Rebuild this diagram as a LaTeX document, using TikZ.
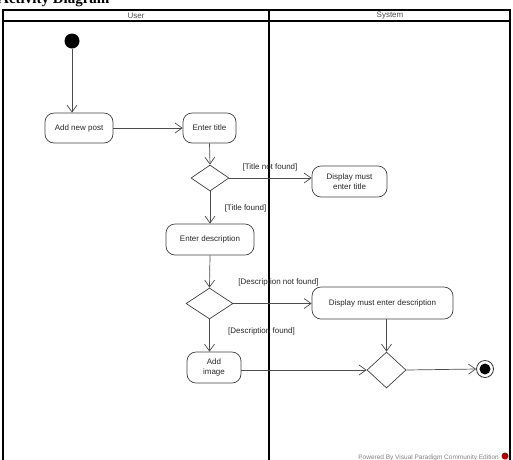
\documentclass[tikz,border=0pt]{standalone}
\usepackage{fontspec}
\setmainfont{Liberation Serif}
\setsansfont{Liberation Sans}
\usetikzlibrary{shapes.geometric,arrows.meta}
\begin{document}
\begin{tikzpicture}[x=1pt,y=-1pt,
  txt/.style={font=\sffamily\fontsize{8}{9.5}\selectfont, text=black!85},
  act/.style={txt, draw=black!75, rounded corners=9pt, line width=0.7pt, align=center, inner sep=1pt},
  dec/.style={diamond, draw=black!75, line width=0.7pt, inner sep=0pt},
  flow/.style={draw=black!70, line width=0.7pt, -{Straight Barb[length=7pt,width=10pt]}},
  guard/.style={txt, inner sep=0pt},
  lane/.style={draw=black, line width=1.6pt}
]
\useasboundingbox (0,0) rectangle (513,459);
\clip (0,0) rectangle (513,459);

% title (cropped at the top, as in the reference)
\node[anchor=base west, font=\fontsize{15}{15}\selectfont\bfseries\rmfamily, inner sep=0] (title) at (-2,3) {Activity Diagram};

% swimlanes
\draw[lane] (3,10) rectangle (510,475);
\draw[lane] (3,21) -- (510,21);
\draw[lane] (269,10) -- (269,475);
\node[txt, text=black!70] (laneU) at (136,15.5) {User};
\node[txt, text=black!70] (laneS) at (390,15.5) {System};

% nodes
\node[circle, fill=black, minimum size=15pt, inner sep=0pt] (start) at (72,41) {};
\node[act, minimum width=68pt, minimum height=30pt] (n1) at (79,128) {Add new post};
\node[act, minimum width=53pt, minimum height=30pt] (n2) at (209.5,128) {Enter title};
\node[dec, minimum width=38pt, minimum height=26pt] (d1) at (210,178) {};
\node[act, minimum width=75pt, minimum height=31pt] (n3) at (349.5,181.5) {Display must\\enter title};
\node[act, minimum width=88pt, minimum height=31pt] (n4) at (210,239.5) {Enter description};
\node[dec, minimum width=47pt, minimum height=31pt] (d2) at (209.5,303.5) {};
\node[act, minimum width=141pt, minimum height=32pt] (n5) at (382.5,303) {Display must enter description};
\node[act, minimum width=54pt, minimum height=31pt] (n6) at (214,367.5) {Add\\image};
\node[dec, minimum width=39pt, minimum height=36pt] (d3) at (386.5,370) {};
\node[circle, draw=black!80, line width=0.8pt, minimum size=17pt, inner sep=0pt] (end) at (485,369) {};
\fill (end.center) circle (5.5pt);

% flows
\draw[flow] (start) -- (start |- n1.north);
\draw[flow] (n1.east) -- (n2.west);
\draw[flow] (n2.south) -- (d1.north);
\draw[flow] (d1.east) -- (d1.east -| n3.west);
\draw[flow] (d1.south) -- (d1.south |- n4.north);
\draw[flow] (n4.south) -- (d2.north);
\draw[flow] (d2.east) -- (d2.east -| n5.west);
\draw[flow] (d2.south) -- (d2.south |- n6.north);
\draw[flow] (d3.north |- n5.south) -- (d3.north);
\draw[flow] (n6.east |- d3.west) -- (d3.west);
\draw[flow] (d3.east) -- (end.west);

% guards
\node[guard] (g1) at (270,167) {[Title not found]};
\node[guard] (g2) at (245.5,208) {[Title found]};
\node[guard] (g3) at (278.5,282) {[Description not found]};
\node[guard] (g4) at (261.5,331) {[Description found]};

% footer
\node[anchor=base east, font=\sffamily\fontsize{6.5}{6.5}\selectfont, text=black!50, inner sep=0] (footer) at (499,459) {Powered By Visual Paradigm Community Edition};
\fill[red!75!black] (505,456) circle (3.5pt);
\end{tikzpicture}
\end{document}
